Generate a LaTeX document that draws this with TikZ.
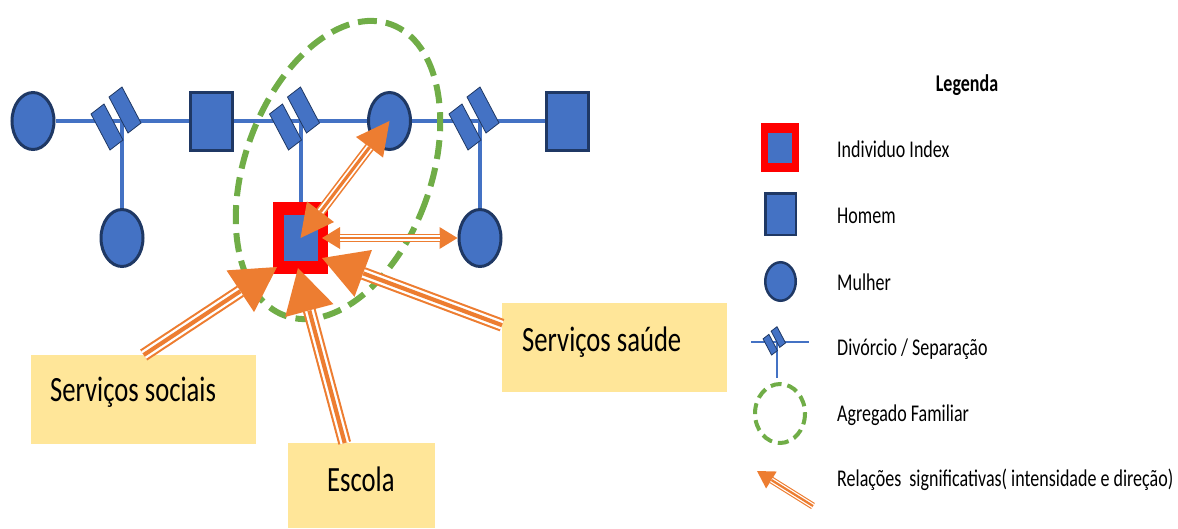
\documentclass[tikz,border=0pt]{standalone}
\usepackage{fontspec}
\setmainfont{Carlito}[FakeStretch=0.75]
\usetikzlibrary{positioning}
\usetikzlibrary{shapes.geometric}
\usetikzlibrary{arrows.meta}
\usetikzlibrary{backgrounds}

\definecolor{azul}{HTML}{4472C4}
\definecolor{contorno}{HTML}{1F3864}
\definecolor{laranja}{HTML}{ED7D31}
\definecolor{verde}{HTML}{70AD47}
\definecolor{amarelo}{HTML}{FFE699}

\tikzset{
  homem/.style={rectangle, fill=azul, draw=contorno, line width=3pt, minimum width=42pt, minimum height=58pt},
  mulher/.style={ellipse, fill=azul, draw=contorno, line width=3pt, minimum width=42pt, minimum height=57pt},
  indexbox/.style={rectangle, fill=red, minimum width=55pt, minimum height=72pt, inner sep=0pt, outer sep=0pt},
  indexcore/.style={rectangle, fill=azul, minimum width=34pt, minimum height=46pt, inner sep=0pt},
  linha/.style={draw=azul, line width=4.5pt},
  divrect/.style={fill=azul, draw=contorno, line width=0.8pt},
  divsep/.pic={
    \draw[divrect] (-31,-7) -- (-18,-17) -- (1,19) -- (-12,29) -- cycle;
    \draw[divrect] (-13,-24) -- (0,-34) -- (19,2) -- (6,12) -- cycle;
  },
  agregado/.style={draw=verde, line width=6pt, dash pattern=on 19pt off 9pt},
  caixa/.style={rectangle, fill=amarelo, inner sep=0pt, anchor=north west},
  rotulo/.style={font=\fontsize{35.5}{42}\selectfont, anchor=base west, inner sep=0pt},
  legtexto/.style={font=\fontsize{24}{28}\selectfont, anchor=base west, inner sep=0pt},
  % tres riscas: fina - grossa - fina
  relacao/.style n args={3}{draw=laranja, line width=#1,
    postaction={draw=white, line width=0.68*#1, arrows=-, shorten >=#2, shorten <=#3},
    postaction={draw=laranja, line width=0.32*#1, arrows=-, shorten >=#2, shorten <=#3}},
  TipBig/.tip={Triangle[length=44pt, width=50pt, line width=0pt 0 0]},
  TipMid/.tip={Triangle[length=33pt, width=34pt, line width=0pt 0 0]},
  TipSmall/.tip={Triangle[length=18pt, width=22pt, line width=0pt 0 0]},
  TipLeg/.tip={Triangle[length=17pt, width=20pt, line width=0pt 0 0]},
}

\begin{document}
\begin{tikzpicture}[x=1pt, y=-1pt]
 \useasboundingbox (0,0) rectangle (1178,528);

 % genograma
 \node[mulher] (ex1) at (33,121) {};
 \node[homem] (pai) at (211.5,121) {};
 \node[mulher] (mae) at (389.5,121) {};
 \node[homem] (ex2) at (567.5,121) {};
 \node[mulher] (irma1) at (122,238) {};
 \node[mulher] (irma2) at (480,238) {};
 \node[indexbox] (index) at (300.5,238) {};
 \node[indexcore] at (index) {};
 \coordinate (d1) at (122,121);
 \coordinate (d2) at (300.5,121);
 \coordinate (d3) at (480,121);
 \begin{scope}[on background layer]
  \draw[linha] (ex1) -- (ex2);
  \draw[linha, line width=4pt] (d1) -- (irma1);
  \draw[linha, line width=4pt] (d2) -- (index);
  \draw[linha, line width=4pt] (d3) -- (irma2);
 \end{scope}
 \pic at (d1) {divsep};
 \pic at (d2) {divsep};
 \pic at (d3) {divsep};

 \draw[agregado, rotate around={-20:(338,170)}] (338,170) ellipse [x radius=93, y radius=155];

 % servicos
 \node[caixa, minimum width=225pt, minimum height=89pt] (social) at (31,355) {};
 \node[rotulo] at (50,401.7) {Serviços sociais};
 \node[caixa, minimum width=147pt, minimum height=85pt] (escola) at (288,443) {};
 \node[rotulo] at (327,491) {Escola};
 \node[caixa, minimum width=225pt, minimum height=89pt] (saude) at (502,303) {};
 \node[rotulo] at (522,351) {Serviços saúde};

 \draw[relacao={13pt}{44pt}{0pt}, -TipBig] (social.north) -- ([shift={(4,-7)}]index.south west);
 \draw[relacao={13pt}{44pt}{0pt}, -TipBig] ([xshift=-17pt]escola.north) -- ([shift={(-2.5,-6)}]index.south);
 \draw[relacao={13pt}{44pt}{0pt}, -TipBig] ([yshift=22.5pt]saude.west) -- ([shift={(-6,-16)}]index.south east);
 \draw[relacao={10pt}{33pt}{33pt}, TipMid-TipMid] (index.center) -- (mae.center);
 \draw[relacao={8pt}{18pt}{18pt}, TipSmall-TipSmall] ([xshift=-6pt]index.east) -- (irma2.west);

 % legenda
 \node[font=\bfseries\fontsize{24}{28}\selectfont, anchor=base] at (967,91.7) {Legenda};
 \node[indexbox, minimum width=38pt, minimum height=49pt] (legindex) at (780,147.5) {};
 \node[indexcore, minimum width=24pt, minimum height=30pt] at (legindex) {};
 \node[legtexto] at (837,157) {Individuo Index};
 \node[homem, line width=2.5pt, minimum width=30.5pt, minimum height=41.5pt] at (780.5,214) {};
 \node[legtexto] at (837,223) {Homem};
 \node[mulher, line width=2.5pt, minimum width=30.5pt, minimum height=38.5pt] at (780.5,281.5) {};
 \node[legtexto] at (837,290) {Mulher};
 \draw[linha, line width=2pt] (751,342) -- (809,342) (777,342) -- (777,378);
 \pic[scale=0.45] at (777,342) {divsep};
 \node[legtexto] at (837,355) {Divórcio / Separação};
 \draw[agregado, line width=4pt, dash pattern=on 11pt off 6pt] (780,413.5) ellipse [x radius=25, y radius=29.5];
 \node[legtexto] at (837,421.7) {Agregado Familiar};
 \draw[relacao={7pt}{17pt}{0pt}, -TipLeg] (813,506) -- (757,471);
 \node[legtexto] at (837,486.7) {Relações\ \ significativas( intensidade e direção)};
\end{tikzpicture}
\end{document}
